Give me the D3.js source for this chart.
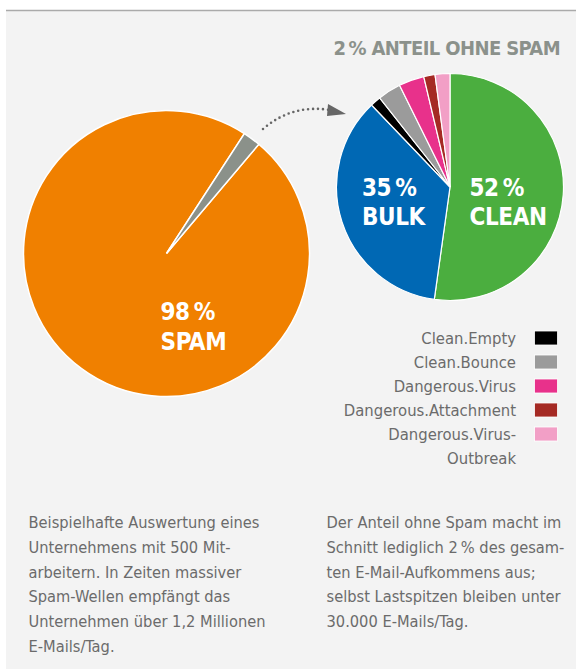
<!DOCTYPE html>
<html>
<head>
<meta charset="utf-8">
<script src="https://cdn.jsdelivr.net/npm/d3@7"></script>
<style>
  body { margin: 0; background: #fff; }
  svg text { font-family: "Liberation Sans Narrow", "DejaVu Sans Condensed", "Roboto", sans-serif; }
</style>
</head>
<body>
<div id="chart"></div>
<script>
// overview pie: spam vs. the rest
const overviewLabels = ["Spam", "Ohne Spam"];
const overviewValues = [98, 2];
const overviewColors = ["#f08000", "#8b918a"];

// detail pie: the 2% without spam
const detailLabels = ["Clean", "Bulk", "Clean.Empty", "Clean.Bounce", "Dangerous.Virus", "Dangerous.Attachment", "Dangerous.Virus-Outbreak"];
const detailValues = [52, 35.5, 1.5, 3.3, 3.6, 1.6, 2.1];
const detailColors = ["#4bae3f", "#0068b4", "#000000", "#9b9b9b", "#e8318b", "#a52a24", "#f29fc6"];

// legend only lists the small slices
const legendItems = ["Clean.Empty", "Clean.Bounce", "Dangerous.Virus", "Dangerous.Attachment", "Dangerous.Virus-Outbreak"];
const legendText = [["Clean.Empty"], ["Clean.Bounce"], ["Dangerous.Virus"], ["Dangerous.Attachment"], ["Dangerous.Virus-", "Outbreak"]];

const noteLeft = ["Beispielhafte Auswertung eines", "Unternehmens mit 500 Mit-", "arbeitern. In Zeiten massiver", "Spam-Wellen empfängt das", "Unternehmen über 1,2 Millionen", "E-Mails/Tag."];
const noteRight = ["Der Anteil ohne Spam macht im", "Schnitt lediglich 2\u2009% des gesam-", "ten E-Mail-Aufkommens aus;", "selbst Lastspitzen bleiben unter", "30.000 E-Mails/Tag."];

const width = 576, height = 671;
const svg = d3.select("#chart").append("svg")
  .attr("width", width)
  .attr("height", height);

// panel
svg.append("rect")
  .attr("x", 6).attr("y", 10)
  .attr("width", width - 6).attr("height", 659)
  .attr("fill", "#f3f3f3");
svg.append("line")
  .attr("x1", 6).attr("x2", width)
  .attr("y1", 10.5).attr("y2", 10.5)
  .attr("stroke", "#aaaaaa").attr("stroke-width", 1.5);

const deg = Math.PI / 180;

// big pie
const bigPie = d3.pie().sort(null).value(d => d)
  .startAngle(40.2 * deg).endAngle(40.2 * deg + 2 * Math.PI);
const bigArc = d3.arc().innerRadius(0).outerRadius(143);
const gBig = svg.append("g").attr("transform", "translate(166.5,253.5)");
gBig.selectAll("path")
  .data(bigPie(overviewValues))
  .join("path")
  .attr("d", bigArc)
  .attr("fill", (d, i) => overviewColors[i])
  .attr("stroke", "#fff")
  .attr("stroke-width", 1.5);

const bigLabel = gBig.append("text")
  .attr("fill", "#fff")
  .attr("font-weight", "bold")
  .attr("font-size", 24)
  .attr("letter-spacing", -0.4);
bigLabel.append("tspan").attr("x", -6).attr("y", 66.5).text(overviewValues[0] + "\u2009%");
bigLabel.append("tspan").attr("x", -6).attr("y", 96).text(overviewLabels[0].toUpperCase());

// small pie
const smallPie = d3.pie().sort(null).value(d => d);
const smallArc = d3.arc().innerRadius(0).outerRadius(113.5);
const gSmall = svg.append("g").attr("transform", "translate(450,187)");
gSmall.selectAll("path")
  .data(smallPie(detailValues))
  .join("path")
  .attr("d", smallArc)
  .attr("fill", (d, i) => detailColors[i])
  .attr("stroke", "#fff")
  .attr("stroke-width", 1.2);

function pieLabel(x, pct, name) {
  const t = gSmall.append("text")
    .attr("fill", "#fff")
    .attr("font-weight", "bold")
    .attr("font-size", 24)
    .attr("letter-spacing", -0.4);
  t.append("tspan").attr("x", x).attr("y", 9).text(pct + "\u2009%");
  t.append("tspan").attr("x", x).attr("y", 37.5).text(name);
}
pieLabel(-88, 35, "BULK");
pieLabel(19.5, 52, "CLEAN");

// title
svg.append("text")
  .attr("x", 560).attr("y", 55)
  .attr("text-anchor", "end")
  .attr("font-weight", "bold")
  .attr("font-size", 20)
  .attr("letter-spacing", -0.6)
  .attr("fill", "#8b918b")
  .text("2\u2009% ANTEIL OHNE SPAM");

// dotted arrow
svg.append("path")
  .attr("d", "M263,129 Q292,104 330,110")
  .attr("fill", "none")
  .attr("stroke", "#666")
  .attr("stroke-width", 2.6)
  .attr("stroke-linecap", "round")
  .attr("stroke-dasharray", "0,5");
svg.append("path")
  .attr("d", "M328,104 L346,114 L327,116 Z")
  .attr("fill", "#666");

// legend
const legend = svg.append("g").attr("transform", "translate(0,331)");
const rowH = 24;
legendItems.forEach((name, i) => {
  const ci = detailLabels.indexOf(name);
  legend.append("rect")
    .attr("x", 534.5).attr("y", i * rowH)
    .attr("width", 23).attr("height", 14)
    .attr("fill", detailColors[ci])
    .attr("stroke", "#fff").attr("stroke-width", 0.8);
  const t = legend.append("text")
    .attr("text-anchor", "end")
    .attr("font-size", 16.5)
    .attr("fill", "#6b6b6b");
  legendText[i].forEach((line, j) => {
    t.append("tspan").attr("x", 516).attr("y", i * rowH + 12.5 + j * rowH).text(line);
  });
});

// notes
function note(lines, x) {
  const t = svg.append("text")
    .attr("font-size", 16.3)
    .attr("fill", "#6b6b6b");
  lines.forEach((line, i) => {
    t.append("tspan").attr("x", x).attr("y", 528 + i * 24.8).text(line);
  });
}
note(noteLeft, 28.5);
note(noteRight, 326.5);
</script>
</body>
</html>
